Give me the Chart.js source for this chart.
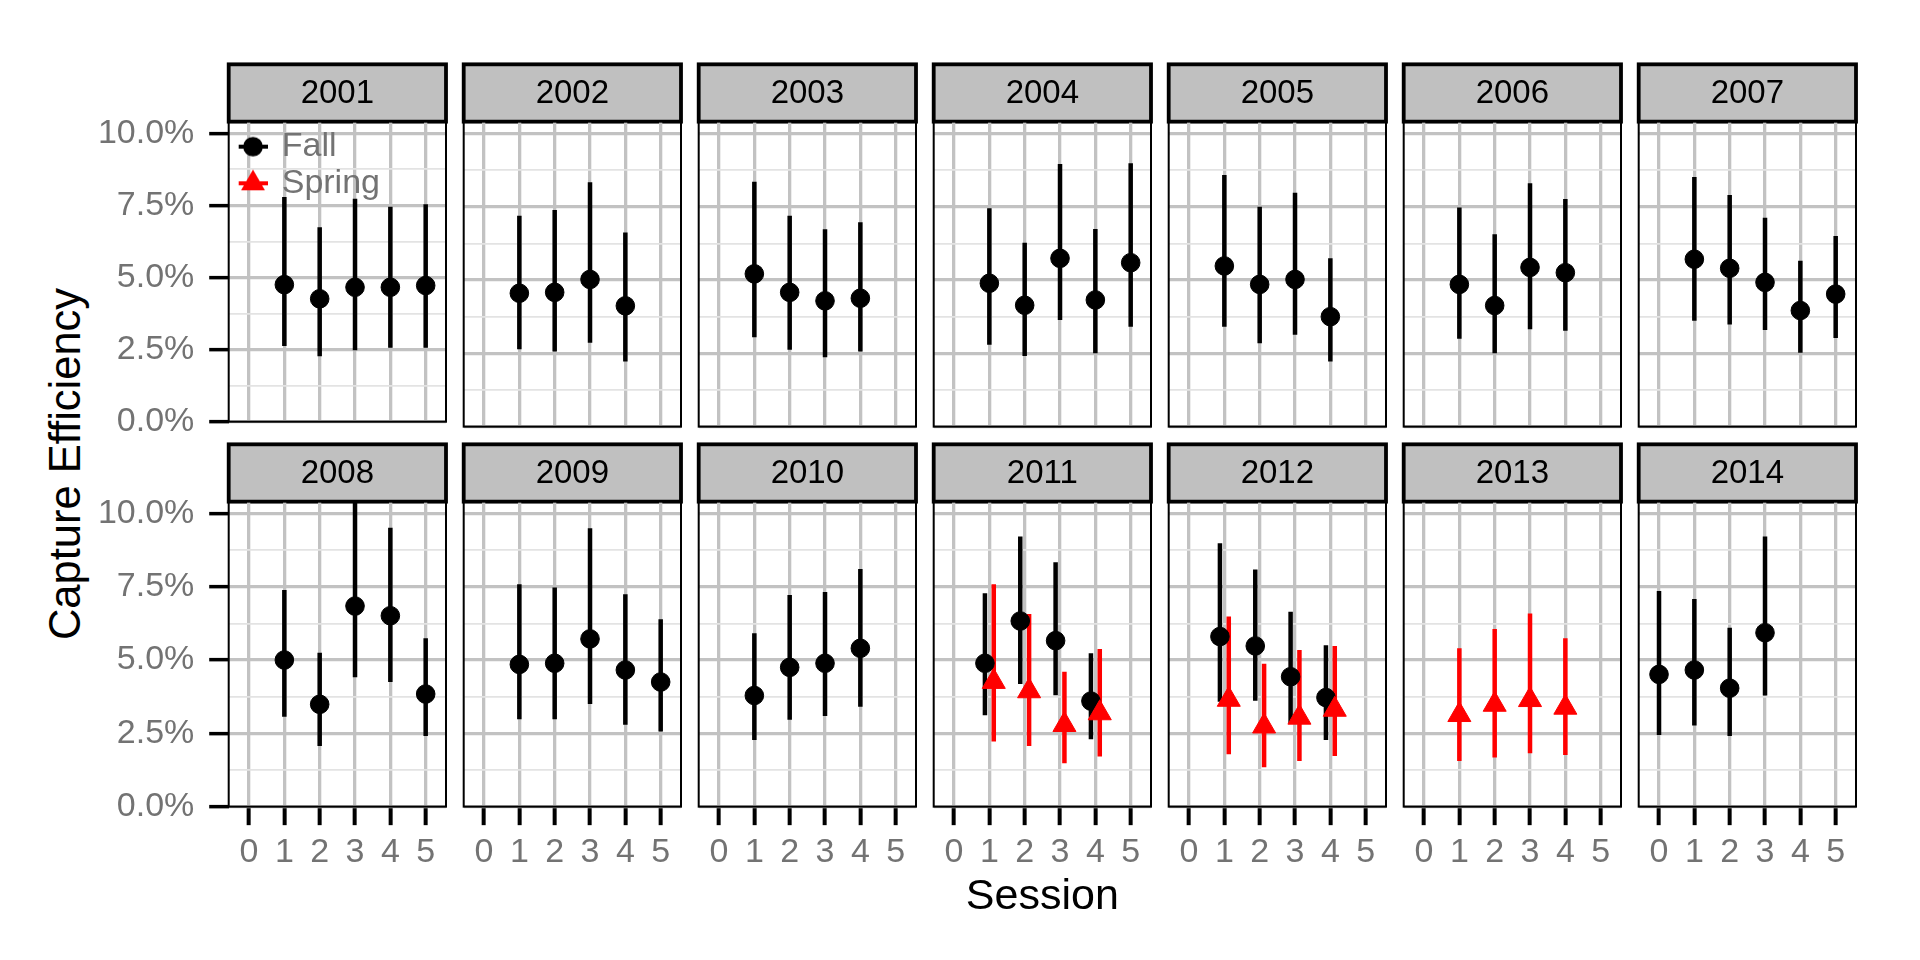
<!DOCTYPE html>
<html>
<head>
<meta charset="utf-8">
<title>Capture Efficiency</title>
<script src="https://cdn.jsdelivr.net/npm/chart.js@4.4.1/dist/chart.umd.min.js"></script>
<style>
html,body{margin:0;padding:0;background:#fff;}
body{width:1920px;height:960px;position:relative;overflow:hidden;font-family:"Liberation Sans",Arial,Helvetica,sans-serif;}
canvas{position:absolute;display:block;}
#ytitle{position:absolute;left:-185px;top:438px;width:500px;height:52px;line-height:52px;font-size:43.5px;text-align:center;color:#000;white-space:nowrap;transform:rotate(-90deg);}
</style>
</head>
<body>
<div id="ytitle">Capture Efficiency</div>
<script>
// ---------------- data ----------------
const years = [2001,2002,2003,2004,2005,2006,2007,2008,2009,2010,2011,2012,2013,2014];
const seasonNames = ['Fall','Spring'];

const fallYear    = [2001,2001,2001,2001,2001, 2002,2002,2002,2002, 2003,2003,2003,2003, 2004,2004,2004,2004,2004, 2005,2005,2005,2005, 2006,2006,2006,2006, 2007,2007,2007,2007,2007, 2008,2008,2008,2008,2008, 2009,2009,2009,2009,2009, 2010,2010,2010,2010, 2011,2011,2011,2011, 2012,2012,2012,2012, 2014,2014,2014,2014];
const fallSession = [1,2,3,4,5, 1,2,3,4, 1,2,3,4, 1,2,3,4,5, 1,2,3,4, 1,2,3,4, 1,2,3,4,5, 1,2,3,4,5, 1,2,3,4,5, 1,2,3,4, 1,2,3,4, 1,2,3,4, 0,1,2,3];
const fallEst     = [4.75,4.26,4.66,4.66,4.72, 4.55,4.58,5.02,4.12, 5.21,4.58,4.29,4.38, 4.89,4.14,5.74,4.32,5.59, 5.48,4.85,5.02,3.75, 4.85,4.13,5.43,5.25, 5.71,5.40,4.92,3.96,4.52, 5.00,3.49,6.84,6.51,3.84, 4.85,4.89,5.72,4.66,4.25, 3.79,4.75,4.89,5.40, 4.89,6.33,5.66,3.60, 5.80,5.48,4.43,3.72, 4.51,4.66,4.04,5.93];
const fallLow     = [2.62,2.27,2.48,2.56,2.56, 2.64,2.56,2.86,2.22, 3.05,2.62,2.37,2.56, 2.79,2.41,3.64,2.50,3.41, 3.41,2.84,3.13,2.22, 3.00,2.50,3.32,3.27, 3.61,3.48,3.30,2.52,3.02, 3.07,2.07,4.41,4.25,2.41, 2.98,2.98,3.50,2.79,2.56, 2.27,2.96,3.09,3.41, 3.12,4.18,3.80,2.30, 3.58,3.61,2.84,2.27, 2.44,2.77,2.41,3.79];
const fallHigh    = [7.79,6.74,7.73,7.45,7.54, 7.19,7.39,8.33,6.62, 8.35,7.19,6.73,6.97, 7.45,6.27,8.96,6.74,8.98, 8.58,7.50,7.98,5.74, 7.47,6.56,8.30,7.76, 8.51,7.90,7.12,5.66,6.50, 7.39,5.25,10.40,9.51,5.74, 7.58,7.47,9.49,7.24,6.39, 5.91,7.22,7.32,8.10, 7.28,9.21,8.33,5.23, 8.98,8.09,6.65,5.50, 7.35,7.08,6.10,9.21];

const springYear    = [2011,2011,2011,2011, 2012,2012,2012,2012, 2013,2013,2013,2013];
const springSession = [1,2,3,4, 1,2,3,4, 1,2,3,4];
const springEst     = [4.26,3.94,2.79,3.19, 3.65,2.74,3.04,3.31, 3.13,3.48,3.64,3.38];
const springLow     = [2.22,2.07,1.48,1.71, 1.79,1.34,1.56,1.73, 1.56,1.68,1.82,1.76];
const springHigh    = [7.58,6.57,4.60,5.38, 6.48,4.87,5.34,5.48, 5.40,6.06,6.59,5.74];

const xTickValues = [0,1,2,3,4,5];
const xTickLabels = ['0','1','2','3','4','5'];
const yMajorValues = [0,2.5,5,7.5,10];
const yTickLabels  = ['0.0%','2.5%','5.0%','7.5%','10.0%'];
const yMinorValues = [1.25,3.75,6.25,8.75];
const xLimits = [-0.575, 5.575];
const yLimits = [0, 10.4];
const dodgeWidth = 0.125;

// ---------------- style / layout ----------------
const FONT = '"Liberation Sans", Arial, Helvetica, sans-serif';
Chart.defaults.font.family = FONT;
const TEXT_GRAY = '#737373';
const GRID_MAJOR = '#c2c2c2';
const GRID_MINOR = '#e3e3e3';
const STRIP_FILL = '#c0c0c0';
const FALL_COLOR = '#000000';
const SPRING_COLOR = '#ff0000';

const PANEL_W = 217.3, PANEL_H = 305, STRIP_H = 58.33;
const COL_X0 = 228.7, COL_PITCH = 235;
const ROW_Y0 = 63.33, ROW_PITCH = 380;
const STRIP_FONT = 33, STRIP_PAD_TOP = 10.9;

const yTickValues = yMajorValues.concat(yMinorValues).sort((a, b) => a - b);
const isMajorY = v => yMajorValues.indexOf(v) >= 0;

function rowsFor(yArr, sArr, eArr, lArr, hArr, year) {
  const out = [];
  for (let i = 0; i < yArr.length; i++) {
    if (yArr[i] === year) out.push({s: sArr[i], est: eArr[i], lo: lArr[i], hi: hArr[i]});
  }
  return out;
}

// legend keys (point + horizontal line, like the ggplot key)
function makeKey(color, shape) {
  const cv = document.createElement('canvas');
  cv.width = 32; cv.height = 30;
  const g = cv.getContext('2d');
  g.strokeStyle = color; g.fillStyle = color; g.lineWidth = 4;
  g.beginPath(); g.moveTo(1, 15); g.lineTo(31, 15); g.stroke();
  g.beginPath();
  if (shape === 'circle') {
    g.arc(16, 15, 9.8, 0, Math.PI * 2);
  } else {
    const r = 13.8;
    g.moveTo(16, 15 - r);
    g.lineTo(16 + r * Math.sin(2 * Math.PI / 3), 15 + r / 2);
    g.lineTo(16 - r * Math.sin(2 * Math.PI / 3), 15 + r / 2);
    g.closePath();
  }
  g.fill();
  return cv;
}
const fallKey = makeKey(FALL_COLOR, 'circle');
const springKey = makeKey(SPRING_COLOR, 'triangle');

const facetPlugin = {
  id: 'facetFrame',
  afterLayout(chart, args, opts) {
    if (!opts.legend || !chart.legend) return;
    const lg = chart.legend, ca = chart.chartArea;
    lg.left = ca.left + 10;
    lg.top = ca.top + 5.4;
    lg.right = ca.right;
    lg.bottom = ca.bottom;
    lg.width = lg.right - lg.left;
    lg.height = lg.bottom - lg.top;
  },
  beforeDraw(chart, args, opts) {
    const ca = chart.chartArea, ctx = chart.ctx;
    const top = opts.stripTop;
    ctx.save();
    ctx.fillStyle = STRIP_FILL;
    ctx.fillRect(ca.left, top, ca.right - ca.left, ca.top - top);
    ctx.lineWidth = 3.8;
    ctx.strokeStyle = '#000';
    ctx.strokeRect(ca.left, top + 1, ca.right - ca.left, ca.top - top - 1);
    ctx.restore();
  },
  afterDraw(chart) {
    const ca = chart.chartArea, ctx = chart.ctx;
    ctx.save();
    ctx.lineWidth = 2;
    ctx.strokeStyle = '#000';
    ctx.strokeRect(ca.left, ca.top, ca.right - ca.left, ca.bottom - ca.top);
    ctx.restore();
  }
};

years.forEach((year, k) => {
  const r = Math.floor(k / 7), c = k % 7;
  const L = COL_X0 + c * COL_PITCH, R = L + PANEL_W;
  const stripTop = ROW_Y0 + r * ROW_PITCH;
  const T = stripTop + STRIP_H, B = T + PANEL_H;
  const CL = c === 0 ? 0 : Math.floor(L) - 6;
  const CR = Math.ceil(R) + 6;
  const CT = Math.floor(stripTop) - 4;
  const CB = r === 0 ? Math.ceil(B) + 30 : 958;

  const cv = document.createElement('canvas');
  cv.width = CR - CL; cv.height = CB - CT;
  cv.style.left = CL + 'px'; cv.style.top = CT + 'px';
  cv.style.width = (CR - CL) + 'px'; cv.style.height = (CB - CT) + 'px';
  document.body.appendChild(cv);

  const fall = rowsFor(fallYear, fallSession, fallEst, fallLow, fallHigh, year);
  const spring = rowsFor(springYear, springSession, springEst, springLow, springHigh, year);
  const both = fall.length > 0 && spring.length > 0;
  const fOff = both ? -dodgeWidth : 0, sOff = both ? dodgeWidth : 0;

  const datasets = [];
  if (fall.length) {
    datasets.push({type: 'bar', label: seasonNames[0], order: 4, grouped: false,
      data: fall.map(d => ({x: d.s + fOff, y: [d.lo, d.hi]})),
      backgroundColor: FALL_COLOR, borderWidth: 0, barThickness: 4.5, inflateAmount: 0});
    datasets.push({type: 'scatter', label: seasonNames[0], order: 2, showLine: false,
      data: fall.map(d => ({x: d.s + fOff, y: d.est})),
      pointStyle: 'circle', pointRadius: 9.3, backgroundColor: FALL_COLOR, borderColor: FALL_COLOR, borderWidth: 1});
  }
  if (spring.length) {
    datasets.push({type: 'bar', label: seasonNames[1], order: 3, grouped: false,
      data: spring.map(d => ({x: d.s + sOff, y: [d.lo, d.hi]})),
      backgroundColor: SPRING_COLOR, borderWidth: 0, barThickness: 4.5, inflateAmount: 0});
    datasets.push({type: 'scatter', label: seasonNames[1], order: 1, showLine: false,
      data: spring.map(d => ({x: d.s + sOff, y: d.est})),
      pointStyle: 'triangle', pointRadius: 13.3, backgroundColor: SPRING_COLOR, borderColor: SPRING_COLOR, borderWidth: 1});
  }

  new Chart(cv, {
    type: 'bar',
    data: {datasets},
    options: {
      responsive: false, animation: false, devicePixelRatio: 1, events: [],
      layout: {autoPadding: false, padding: {left: c === 0 ? 0 : L - CL, right: CR - R, top: stripTop - CT, bottom: 0}},
      scales: {
        x: {
          type: 'linear', min: xLimits[0], max: xLimits[1], offset: false,
          afterBuildTicks: s => { s.ticks = xTickValues.map(v => ({value: v})); },
          afterFit: s => { s.height = CB - B; },
          border: {display: false},
          grid: {offset: false, color: GRID_MAJOR, lineWidth: 3.3, drawTicks: r === 1, tickLength: 18.5, tickColor: '#000', tickWidth: 4},
          ticks: {display: r === 1, autoSkip: false, maxRotation: 0, minRotation: 0, padding: 7.5, color: TEXT_GRAY, font: {size: 34},
            callback: v => { const i = xTickValues.indexOf(v); return i >= 0 ? xTickLabels[i] : ''; }},
          title: k === 10 ? {display: true, text: 'Session', color: '#000', font: {size: 43}, padding: {top: 0, bottom: 35.2}} : {display: false}
        },
        y: {
          type: 'linear', min: yLimits[0], max: yLimits[1],
          afterBuildTicks: s => { s.ticks = yTickValues.map(v => ({value: v})); },
          afterFit: s => { s.width = c === 0 ? L - CL : 0; },
          border: {display: false},
          grid: {
            color: ctx => (ctx.tick && !isMajorY(ctx.tick.value)) ? GRID_MINOR : GRID_MAJOR,
            lineWidth: ctx => (ctx.tick && !isMajorY(ctx.tick.value)) ? 1.7 : 3.3,
            drawTicks: c === 0, tickLength: 19.5, tickWidth: 3.5,
            tickColor: ctx => (ctx.tick && !isMajorY(ctx.tick.value)) ? 'rgba(0,0,0,0)' : '#000'
          },
          ticks: {display: c === 0, autoSkip: false, padding: 14.9, color: TEXT_GRAY, font: {size: 34},
            callback: v => { const i = yMajorValues.indexOf(v); return i >= 0 ? yTickLabels[i] : ''; }}
        }
      },
      plugins: {
        tooltip: {enabled: false},
        title: {display: true, text: String(year), fullSize: false, color: '#000',
          font: {size: STRIP_FONT, lineHeight: 1.2, weight: 'normal'},
          padding: {top: STRIP_PAD_TOP, bottom: STRIP_H - STRIP_FONT * 1.2 - STRIP_PAD_TOP}},
        legend: {
          display: k === 0, position: 'chartArea', align: 'start',
          labels: {
            usePointStyle: true, pointStyleWidth: 23.4, padding: 2.6, color: TEXT_GRAY, font: {size: 34},
            generateLabels: () => [
              {text: seasonNames[0], pointStyle: fallKey, fontColor: TEXT_GRAY, fillStyle: FALL_COLOR, strokeStyle: FALL_COLOR, lineWidth: 0, hidden: false, datasetIndex: 0},
              {text: seasonNames[1], pointStyle: springKey, fontColor: TEXT_GRAY, fillStyle: SPRING_COLOR, strokeStyle: SPRING_COLOR, lineWidth: 0, hidden: false, datasetIndex: 1}
            ]
          }
        },
        facetFrame: {stripTop: stripTop - CT, legend: k === 0}
      }
    },
    plugins: [facetPlugin]
  });
});
</script>
</body>
</html>
